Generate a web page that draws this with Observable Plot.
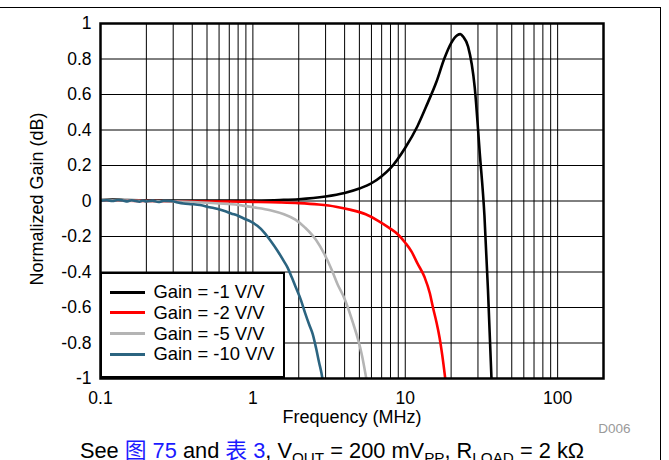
<!DOCTYPE html>
<html>
<head>
<meta charset="utf-8">
<script src="https://cdn.jsdelivr.net/npm/d3@7"></script>
<script src="https://cdn.jsdelivr.net/npm/@observablehq/plot@0.6"></script>
<style>
  html, body { margin: 0; padding: 0; background: #fff; overflow: hidden; }
  #wrap { position: relative; width: 669px; height: 460px; overflow: hidden; font-family: "Liberation Sans", Arial, sans-serif; }
  #wrap svg { position: absolute; left: 0; top: 0; }
  #topframe { position: absolute; left: -2px; top: 7px; width: 663px; height: 470px; border-top: 1.5px solid #000; border-right: 1.5px solid #000; box-sizing: border-box; }
  #legend { position: absolute; left: 99.5px; top: 271.5px; width: 185px; height: 106px; border: 2.3px solid #000; background: #fff; box-sizing: border-box; }
  .row { position: absolute; left: 0; height: 20px; line-height: 20px; font-size: 18.4px; color: #000; white-space: nowrap; }
  .sw { position: absolute; left: 8px; top: 8.5px; width: 35px; height: 3px; }
  .lt { position: absolute; left: 52px; top: 0; }
  #caption { position: absolute; left: 0; width: 664px; top: 437px; text-align: center; font-size: 21.8px; line-height: 24px; color: #000; white-space: nowrap; }
  #caption .cjk { font-family: "Noto Sans CJK SC", sans-serif; }
  #caption .lnk { color: #1a1aff; }
  #caption sub { font-size: 0.7em; vertical-align: -0.3em; line-height: 0; }
</style>
</head>
<body>
<div id="wrap"></div>
<script>
// ---- data ----
const xTicks = [0.1, 1, 10, 100];
const xTickLabels = ["0.1", "1", "10", "100"];
const xGrid = [0.1,0.2,0.3,0.4,0.5,0.6,0.7,0.8,0.9,1,2,3,4,5,6,7,8,9,10,20,30,40,50,60,70,80,90,100,200];
const yTicks = [-1,-0.8,-0.6,-0.4,-0.2,0,0.2,0.4,0.6,0.8,1];
const yTickLabels = ["-1","-0.8","-0.6","-0.4","-0.2","0","0.2","0.4","0.6","0.8","1"];

const seriesNames = ["Gain = -1 V/V", "Gain = -2 V/V", "Gain = -5 V/V", "Gain = -10 V/V"];
const seriesColors = ["#000000", "#ff0000", "#b4b4b4", "#2b6480"];

const freqG1 = [0.1,0.12,0.15,0.2,0.3,0.5,0.7,1,1.5,2,3,4,5,6,7,8,10,12,14,16,18,20,22,23,24,25.85,28.57,30.83,33.08,34.9,36.8];
const gainG1 = [0.005,0.008,0.005,0.004,0.002,0.002,0.002,0.003,0.006,0.01,0.025,0.045,0.07,0.1,0.14,0.185,0.3,0.42,0.55,0.67,0.8,0.89,0.935,0.94,0.925,0.87,0.64,0.27,-0.08,-0.5,-1.0];

const freqG2 = [0.1,0.15,0.2,0.3,0.5,0.7,1,1.5,2,2.7,3.5,4.4,5.5,6.6,7.8,9,10,11,12,13.4,14.5,15.2,16,16.8,17.5,18.3];
const gainG2 = [0.003,0.002,0.0,-0.002,-0.003,-0.003,-0.005,-0.008,-0.012,-0.02,-0.032,-0.05,-0.075,-0.11,-0.15,-0.19,-0.235,-0.285,-0.35,-0.43,-0.52,-0.6,-0.68,-0.77,-0.87,-1.0];

const freqG5 = [0.1,0.15,0.2,0.3,0.4,0.5,0.6,0.8,1,1.3,1.6,1.9,2.2,2.6,2.95,3.3,3.6,3.9,4.2,4.55,4.9,5.2,5.55];
const gainG5 = [0.004,0.003,0.0,-0.003,-0.006,-0.01,-0.014,-0.022,-0.035,-0.052,-0.075,-0.105,-0.15,-0.22,-0.3,-0.39,-0.47,-0.53,-0.6,-0.69,-0.78,-0.87,-1.0];

const freqG10 = [0.1,0.11,0.12,0.13,0.14,0.15,0.16,0.17,0.18,0.19,0.2,0.22,0.24,0.26,0.29,0.32,0.35,0.4,0.45,0.52,0.59,0.66,0.72,0.8,0.88,0.97,1.07,1.18,1.31,1.45,1.6,1.69,1.8,1.9,2.07,2.2,2.35,2.47,2.6,2.72,2.82,2.86];
const gainG10 = [0.002,0.004,0.0,0.006,0.003,-0.002,0.004,0.0,-0.004,0.003,-0.003,0.002,-0.006,0.001,0.0,-0.008,-0.014,-0.018,-0.023,-0.035,-0.045,-0.058,-0.07,-0.083,-0.1,-0.116,-0.14,-0.175,-0.225,-0.28,-0.34,-0.375,-0.43,-0.48,-0.56,-0.63,-0.7,-0.75,-0.83,-0.91,-0.97,-1.0];

const freqs = [freqG1, freqG2, freqG5, freqG10];
const gains = [gainG1, gainG2, gainG5, gainG10];

// ---- chart ----
const font = "'Liberation Sans', Arial, sans-serif";
const lineMarks = freqs.map((fs, i) =>
  Plot.line(fs.map((f, j) => ({f, g: gains[i][j]})), {
    x: "f", y: "g", stroke: seriesColors[i], strokeWidth: 2.6, curve: "monotone-x", clip: true
  })
);

const chart = Plot.plot({
  width: 669,
  height: 460,
  marginLeft: 100,
  marginRight: 66,
  marginTop: 23,
  marginBottom: 82,
  style: { fontFamily: font, fontSize: "17.5px", color: "#000", background: "transparent", overflow: "visible" },
  x: { type: "log", domain: [0.1, 200], label: null },
  y: { domain: [-1, 1], label: null },
  marks: [
    Plot.ruleX(xGrid, { stroke: "#000", strokeWidth: 1 }),
    Plot.ruleY(yTicks, { stroke: "#000", strokeWidth: 1 }),
    ...lineMarks,
    Plot.frame({ stroke: "#000", strokeWidth: 2.5 }),
    Plot.axisX(xTicks, { tickSize: 0, tickPadding: 13, tickFormat: (d) => xTickLabels[xTicks.indexOf(d)], label: null, fontSize: 17.5 }),
    Plot.axisY(yTicks, { tickSize: 0, tickPadding: 9, tickFormat: (d) => yTickLabels[yTicks.indexOf(d)], label: null, fontSize: 17.5 }),
    Plot.text(["Frequency (MHz)"], { frameAnchor: "bottom", dy: 39, textAnchor: "middle", lineAnchor: "middle", text: d => d, fontSize: 18, fill: "#000" }),
    Plot.text(["Normalized Gain (dB)"], { frameAnchor: "left", dx: -63, dy: -2, rotate: -90, textAnchor: "middle", lineAnchor: "middle", text: d => d, fontSize: 18, fill: "#000" }),
    Plot.text(["D006"], { frameAnchor: "bottom-right", dx: 11, dy: 50, textAnchor: "middle", lineAnchor: "middle", text: d => d, fontSize: 13.5, fill: "#9a9a9a" })
  ]
});

const wrap = document.getElementById("wrap");
wrap.appendChild(chart);

const frameDiv = document.createElement("div");
frameDiv.id = "topframe";
wrap.appendChild(frameDiv);

// legend
const legend = document.createElement("div");
legend.id = "legend";
seriesNames.forEach((name, i) => {
  const row = document.createElement("div");
  row.className = "row";
  row.style.top = (8.7 + i * 20.75) + "px";
  row.style.width = "100%";
  const sw = document.createElement("div");
  sw.className = "sw";
  sw.style.background = seriesColors[i];
  const lt = document.createElement("div");
  lt.className = "lt";
  lt.textContent = name;
  row.appendChild(sw);
  row.appendChild(lt);
  legend.appendChild(row);
});
wrap.appendChild(legend);

// caption
const cap = document.createElement("div");
cap.id = "caption";
cap.innerHTML = 'See <span class="lnk"><span class="cjk">图</span> 75</span> and <span class="lnk"><span class="cjk">表</span> 3</span>, V<sub>OUT</sub> = 200 mV<sub>PP</sub>, R<sub>LOAD</sub> = 2 kΩ';
wrap.appendChild(cap);
</script>
</body>
</html>
